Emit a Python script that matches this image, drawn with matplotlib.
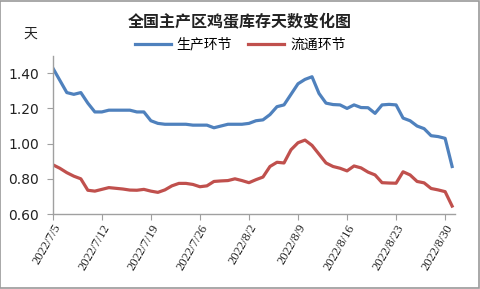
import matplotlib
matplotlib.use("Agg")
import matplotlib.pyplot as plt
import matplotlib.dates as mdates
import numpy as np
import pandas as pd
from matplotlib.patches import Rectangle

plt.rcParams['font.family'] = ['Noto Sans CJK SC', 'DejaVu Sans']

title = "全国主产区鸡蛋库存天数变化图"
unit_label = "天"
series_names = ["生产环节", "流通环节"]
dates = pd.date_range("2022-07-05", "2022-08-31", freq="D")
production = [1.43, 1.36, 1.29, 1.28, 1.29, 1.23, 1.18, 1.18, 1.19, 1.19,
              1.19, 1.19, 1.18, 1.18, 1.13, 1.115, 1.11, 1.11, 1.11, 1.11,
              1.105, 1.105, 1.105, 1.09, 1.10, 1.11, 1.11, 1.11, 1.115, 1.13,
              1.135, 1.165, 1.21, 1.22, 1.28, 1.34, 1.365, 1.38, 1.285, 1.23,
              1.222, 1.22, 1.20, 1.22, 1.205, 1.204, 1.172, 1.22, 1.223, 1.22,
              1.145, 1.13, 1.10, 1.085, 1.045, 1.04, 1.03, 0.87]
circulation = [0.88, 0.86, 0.835, 0.815, 0.80, 0.735, 0.73, 0.74, 0.75, 0.746,
               0.742, 0.736, 0.735, 0.74, 0.73, 0.723, 0.737, 0.76, 0.774, 0.774,
               0.768, 0.755, 0.76, 0.785, 0.788, 0.79, 0.80, 0.79, 0.778, 0.795,
               0.81, 0.87, 0.894, 0.89, 0.965, 1.005, 1.02, 0.99, 0.94, 0.89,
               0.87, 0.86, 0.845, 0.873, 0.862, 0.838, 0.822, 0.778, 0.776, 0.775,
               0.84, 0.822, 0.785, 0.777, 0.745, 0.737, 0.727, 0.645]
tick_dates = pd.date_range("2022-07-05", "2022-08-30", freq="7D")
tick_labels = [f"{d.year}/{d.month}/{d.day}" for d in tick_dates]
y_ticks = [0.60, 0.80, 1.00, 1.20, 1.40]

fig = plt.figure(figsize=(4.8, 2.89), dpi=100)
fig.patches.append(Rectangle((0.001, 0.002), 0.997, 0.995, transform=fig.transFigure,
                             fill=False, edgecolor="#9a9a9a", linewidth=1.2))
ax = fig.add_axes([0.110, 0.2595, 0.838, 0.548])

ax.plot(dates, production, color="#4F81BD", linewidth=2.3, label=series_names[0])
ax.plot(dates, circulation, color="#C0504D", linewidth=2.3, label=series_names[1])

ax.set_ylim(0.60, 1.50)
ax.set_xlim(dates[0], dates[-1] + pd.Timedelta(hours=10))
ax.set_yticks(y_ticks)
ax.set_yticklabels([f"{v:.2f}" for v in y_ticks], fontsize=10, family=['DejaVu Sans'])
ax.set_xticks(tick_dates)
ax.set_xticklabels(tick_labels, rotation=60, ha="right", rotation_mode="anchor",
                   fontsize=9, family=['Liberation Serif'])

for s in ["top", "right"]:
    ax.spines[s].set_visible(False)
for s in ["left", "bottom"]:
    ax.spines[s].set_color("#a0a0a0")
    ax.spines[s].set_linewidth(1.0)
ax.tick_params(axis="both", colors="#a0a0a0", labelcolor="#222222", length=4, width=0.8)
ax.tick_params(axis="x", pad=2)
ax.tick_params(axis="y", pad=6)

fig.text(0.5, 0.925, title, ha="center", va="center", fontsize=11.5, fontweight="bold",
         color="#222222")
fig.text(0.063, 0.885, unit_label, ha="center", va="center", fontsize=10, color="#222222")
ax.legend(loc="center", bbox_to_anchor=(0.5, 0.845), bbox_transform=fig.transFigure,
          ncol=2, frameon=False, fontsize=10, handlelength=2.6, columnspacing=1.2,
          handletextpad=0.4)

fig.savefig("out.png", dpi=100)
